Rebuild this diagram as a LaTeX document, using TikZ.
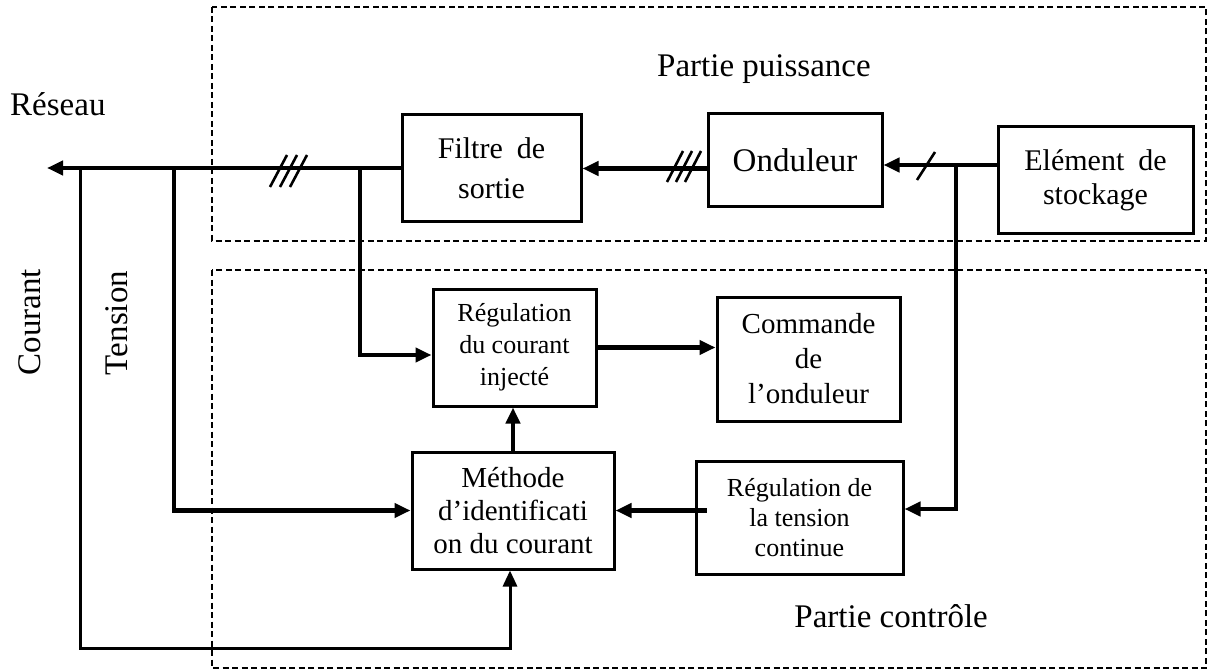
\documentclass[tikz,border=0pt]{standalone}
\usepackage{fontspec}
\setmainfont{Liberation Serif}
\usetikzlibrary{arrows.meta,calc}
\begin{document}
\begin{tikzpicture}[x=1pt,y=-1pt,
  box/.style={draw,line width=3pt,inner sep=0pt,align=center},
  conn/.style={line width=4.2pt},
  thin conn/.style={line width=3pt},
  tip/.style={-{Triangle[length=16pt,width=14pt]}},
  frame/.style={draw,line width=2.6pt,dash pattern=on 6pt off 3.5pt},
  slash/.style={line width=2.6pt},
  big/.style={font=\fontsize{33}{40}\selectfont},
]
\useasboundingbox (0,0) rectangle (1213,671);

% dashed frames
\draw[frame] (212,7) rectangle (1206,241);
\draw[frame] (212,270) rectangle (1206,668);

% boxes
\node[box,minimum width=179pt,minimum height=107pt,font=\fontsize{30}{40}\selectfont] (filtre) at (491.5,168.5) {Filtre\hspace{14pt}de\\sortie};
\node[box,minimum width=174pt,minimum height=93pt,font=\fontsize{33}{40}\selectfont] (ond) at (795,160.5) {Onduleur};
\node[box,minimum width=195pt,minimum height=107pt,font=\fontsize{30}{34}\selectfont] (elem) at (1095.5,180.5) {El\'ement\hspace{14pt}de\\stockage};
\node[box,minimum width=163pt,minimum height=117pt,font=\fontsize{26}{32}\selectfont] (rc) at (514.5,347.5) {R\'egulation\\du courant\\inject\'e};
\node[box,minimum width=183pt,minimum height=124pt,font=\fontsize{29}{35}\selectfont] (cmd) at (808.5,359) {Commande\\de\\l’onduleur};
\node[box,minimum width=202pt,minimum height=117pt,font=\fontsize{29}{33}\selectfont] (meth) at (513,510.5) {M\'ethode\\d’identificati\\on du courant};
\node[box,minimum width=207pt,minimum height=113pt,font=\fontsize{26}{30}\selectfont] (rt) at (799.5,517.5) {R\'egulation de\\la tension\\continue};

% labels
\node[big,anchor=base west,inner sep=0pt] (reseau) at (10,116) {R\'eseau};
\node[big,anchor=base,inner sep=0pt] (ppuis) at (764,77) {Partie puissance};
\node[big,anchor=base east,inner sep=0pt] (pctrl) at (988,627) {Partie contr\^ole};
\node[big,rotate=90,inner sep=0pt] (courant) at (30,322) {Courant};
\node[big,rotate=90,inner sep=0pt] (tension) at (117,323) {Tension};

% junction coordinates
\coordinate (res) at (47,168);
\coordinate (j1) at (360,168);
\coordinate (j2) at (174,168);
\coordinate (j3) at (80,168);
\coordinate (j4) at (956,165);
\coordinate (c1) at (80,648);

% power path
\draw[conn,tip] (filtre.west |- res) -- (res);
\draw[conn,tip] (ond.west |- filtre.east) -- (filtre.east);
\draw[conn,tip] (elem.west |- j4) -- (ond.east |- j4);

% control paths
\draw[conn,tip] (j1) |- ($(rc.west)+(0,7.5)$);
\draw[conn,tip] (j2) |- (meth.west);
\draw[thin conn,tip] (j3) -- (c1) -| ($(meth.south)+(-3,0)$);
\draw[conn,tip] (j4) |- ($(rt.east)+(0,-8.5)$);
\draw[conn,tip] ($(rt.west |- meth.east)+(12,0)$) -- (meth.east);
\draw[conn,tip] (meth.north) -- (meth.north |- rc.south);
\draw[conn,tip] (rc.east) -- (rc.east -| cmd.west);

% slash marks
\foreach \dx in {0,10,20} \draw[slash] (270+\dx,187) -- (287+\dx,155);
\foreach \dx in {0,9,18} \draw[slash] (667+\dx,182) -- (683+\dx,151);
\draw[slash] (917,180) -- (935,152);
\end{tikzpicture}
\end{document}
